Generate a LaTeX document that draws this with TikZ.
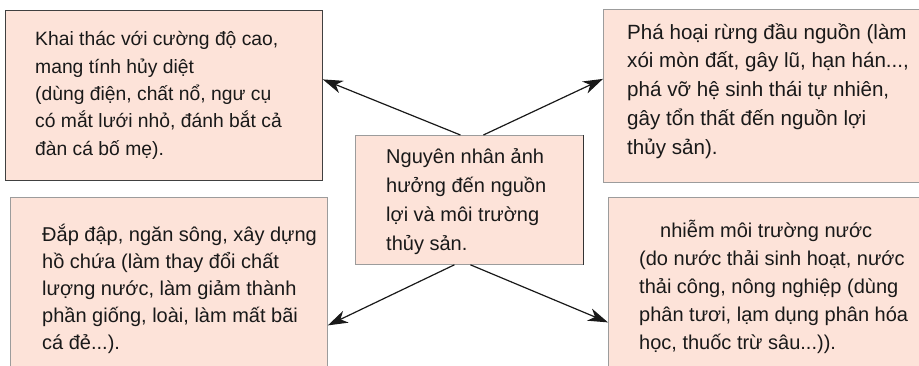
\documentclass[tikz,border=0pt]{standalone}
\usepackage{fontspec}
\setmainfont{Liberation Sans}
\usetikzlibrary{arrows.meta, positioning}
\definecolor{mypink}{HTML}{FDE3D9}
\definecolor{myedge}{HTML}{9C9C9C}
\tikzset{
	boxnode/.style={
			shape=rectangle,
			draw=myedge,
			fill=mypink,
			line width=0.8pt,
			inner sep=0pt,
			anchor=north west
		},
	darkboxnode/.style={
			boxnode,
			draw=black!75
		},
	textnode/.style={
			anchor=west,
			align=left,
			inner sep=0pt,
			text=black!90,
			font=\fontsize{20}{28}\selectfont
		},
	causearrow/.style={
			-{Stealth[length=20pt, width=13pt, inset=6pt]},
			line width=1.2pt,
			draw=black!90
		}
}

\begin{document}
\begin{tikzpicture}[x=1pt, y=-1pt]
  \useasboundingbox (0,0) rectangle (919,366);

  % boxes
  \node[darkboxnode, minimum width=317pt, minimum height=170pt] (b1) at (5,10) {};
  \node[boxnode, minimum width=322pt, minimum height=173pt] (b2) at (603,9) {};
  \node[boxnode, minimum width=317pt, minimum height=174pt] (b3) at (10,197) {};
  \node[boxnode, minimum width=317pt, minimum height=174pt] (b4) at (608,197) {};
  \node[boxnode, minimum width=228pt, minimum height=129pt] (c) at (355,135) {};
  \draw[black!80, line width=0.8pt] (c.north east) -- (c.south east);

  % texts
  \node[textnode, right=30pt of b1.west, font=\fontsize{19.3}{27.3}\selectfont] (t1) {Khai thác với cường độ cao,\\mang tính hủy diệt\\(dùng điện, chất nổ, ngư cụ\\có mắt lưới nhỏ, đánh bắt cả\\đàn cá bố mẹ).};
  \node[textnode, right=24pt of b2.west, yshift=5pt, font=\fontsize{20.6}{28.7}\selectfont] (t2) {Phá hoại rừng đầu nguồn (làm\\xói mòn đất, gây lũ, hạn hán...,\\phá vỡ hệ sinh thái tự nhiên,\\gây tổn thất đến nguồn lợi\\thủy sản).};
  \node[textnode, right=32pt of b3.west, yshift=-4pt, font=\fontsize{20}{27}\selectfont] (t3) {Đắp đập, ngăn sông, xây dựng\\hồ chứa (làm thay đổi chất\\lượng nước, làm giảm thành\\phần giống, loài, làm mất bãi\\cá đẻ...).};
  \node[textnode, right=31pt of b4.west, yshift=-3pt] (t4) {\hspace*{21pt}nhiễm môi trường nước\\(do nước thải sinh hoạt, nước\\thải công, nông nghiệp (dùng\\phân tươi, lạm dụng phân hóa\\học, thuốc trừ sâu...)).};
  \node[textnode, right=31pt of c.west, yshift=-2pt, font=\fontsize{20}{29}\selectfont] (ct) {Nguyên nhân ảnh\\hưởng đến nguồn\\lợi và môi trường\\thủy sản.};

  % arrows
  \draw[causearrow] ([xshift=-9pt]c.north) -- ([yshift=16pt]b1.east);
  \draw[causearrow] ([xshift=14pt]c.north) -- ([yshift=17pt]b2.west);
  \draw[causearrow] ([xshift=-15pt]c.south) -- ([yshift=-41pt]b3.east);
  \draw[causearrow] ([xshift=1pt]c.south) -- ([yshift=-38pt]b4.west);

\end{tikzpicture}
\end{document}
